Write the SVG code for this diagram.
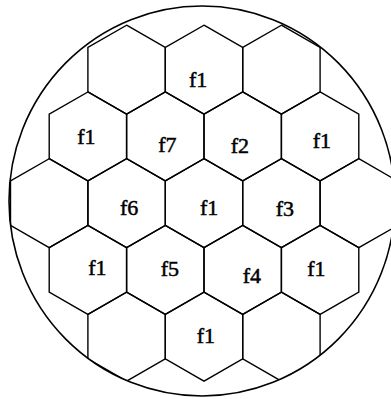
<svg xmlns="http://www.w3.org/2000/svg" xmlns:xlink="http://www.w3.org/1999/xlink" width="391" height="399" viewBox="0 0 391 399">
<style>
.hex{fill:none;stroke:#000;stroke-width:1.4;stroke-linejoin:miter}
.lbl{font-family:"Liberation Serif","Times New Roman",serif;font-size:22px;fill:#000;stroke:#000;stroke-width:0.5}
.rim{fill:none;stroke:#000;stroke-width:1.6}
</style>
<defs>
<polygon id="hex" class="hex" points="0,-44.5 38.7,-22.25 38.7,22.25 0,44.5 -38.7,22.25 -38.7,-22.25"/>
<clipPath id="disc"><ellipse cx="202" cy="201" rx="193" ry="195"/></clipPath>
</defs>
<rect width="391" height="399" fill="#fff"/>
<g id="cells" clip-path="url(#disc)">
<g id="r0c0"><use xlink:href="#hex" href="#hex" x="126.6" y="69.7"/></g>
<g id="r0c1"><use xlink:href="#hex" href="#hex" x="204" y="69.7"/><text class="lbl" x="189" y="87">f1</text></g>
<g id="r0c2"><use xlink:href="#hex" href="#hex" x="281.4" y="69.7"/></g>
<g id="r1c0"><use xlink:href="#hex" href="#hex" x="87.9" y="136.45"/><text class="lbl" x="77.3" y="144.3">f1</text></g>
<g id="r1c1"><use xlink:href="#hex" href="#hex" x="165.3" y="136.45"/><text class="lbl" x="158.3" y="151.7">f7</text></g>
<g id="r1c2"><use xlink:href="#hex" href="#hex" x="242.7" y="136.45"/><text class="lbl" x="230.7" y="152.7">f2</text></g>
<g id="r1c3"><use xlink:href="#hex" href="#hex" x="320.1" y="136.45"/><text class="lbl" x="312.7" y="148.3">f1</text></g>
<g id="r2c0"><use xlink:href="#hex" href="#hex" x="49.2" y="203.2"/></g>
<g id="r2c1"><use xlink:href="#hex" href="#hex" x="126.6" y="203.2"/><text class="lbl" x="120" y="215">f6</text></g>
<g id="r2c2"><use xlink:href="#hex" href="#hex" x="204" y="203.2"/><text class="lbl" x="200" y="215">f1</text></g>
<g id="r2c3"><use xlink:href="#hex" href="#hex" x="281.4" y="203.2"/><text class="lbl" x="275.7" y="216">f3</text></g>
<g id="r2c4"><use xlink:href="#hex" href="#hex" x="358.8" y="203.2"/></g>
<g id="r3c0"><use xlink:href="#hex" href="#hex" x="87.9" y="269.95"/><text class="lbl" x="88.3" y="275">f1</text></g>
<g id="r3c1"><use xlink:href="#hex" href="#hex" x="165.3" y="269.95"/><text class="lbl" x="160.7" y="276">f5</text></g>
<g id="r3c2"><use xlink:href="#hex" href="#hex" x="242.7" y="269.95"/><text class="lbl" x="242.7" y="282.7">f4</text></g>
<g id="r3c3"><use xlink:href="#hex" href="#hex" x="320.1" y="269.95"/><text class="lbl" x="307.3" y="276">f1</text></g>
<g id="r4c0"><use xlink:href="#hex" href="#hex" x="126.6" y="336.7"/></g>
<g id="r4c1"><use xlink:href="#hex" href="#hex" x="204" y="336.7"/><text class="lbl" x="196.7" y="343.3">f1</text></g>
<g id="r4c2"><use xlink:href="#hex" href="#hex" x="281.4" y="336.7"/></g>
</g>
<g id="boundary"><ellipse class="rim" cx="202" cy="201" rx="193" ry="195"/></g>
</svg>
